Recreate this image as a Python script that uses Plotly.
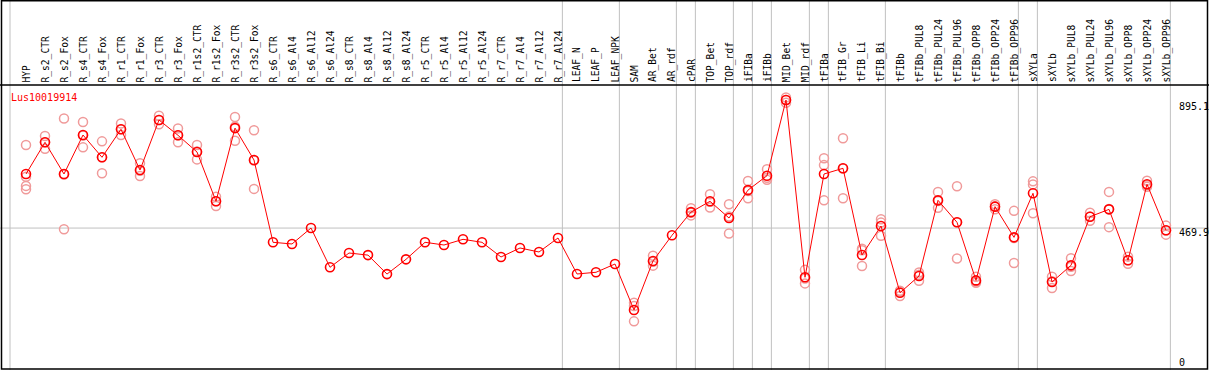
import plotly.graph_objects as go

categories = ["HYP", "R_s2_CTR", "R_s2_Fox", "R_s4_CTR", "R_s4_Fox", "R_r1_CTR", "R_r1_Fox",
              "R_r3_CTR", "R_r3_Fox", "R_r1s2_CTR", "R_r1s2_Fox", "R_r3s2_CTR", "R_r3s2_Fox",
              "R_s6_CTR", "R_s6_Al4", "R_s6_Al12", "R_s6_Al24", "R_s8_CTR", "R_s8_Al4", "R_s8_Al12",
              "R_s8_Al24", "R_r5_CTR", "R_r5_Al4", "R_r5_Al12", "R_r5_Al24", "R_r7_CTR", "R_r7_Al4",
              "R_r7_Al12", "R_r7_Al24", "LEAF_N", "LEAF_P", "LEAF_NPK", "SAM", "AR_Bet", "AR_rdf",
              "cPAR", "TOP_Bet", "TOP_rdf", "iFIBa", "iFIBb", "MID_Bet", "MID_rdf", "tFIBa",
              "tFIB_Gr", "tFIB_Li", "tFIB_Bi", "tFIBb", "tFIBb_PUL8", "tFIBb_PUL24", "tFIBb_PUL96",
              "tFIBb_OPP8", "tFIBb_OPP24", "tFIBb_OPP96", "sXYLa", "sXYLb", "sXYLb_PUL8",
              "sXYLb_PUL24", "sXYLb_PUL96", "sXYLb_OPP8", "sXYLb_OPP24", "sXYLb_OPP96"]

means = [649.5, 754.8, 649.5, 779, 705, 798, 662.8, 829, 778, 722.6, 558.8, 802, 696,
         422.6, 417, 470, 339.5, 387, 380, 317, 366, 422.6, 413.6, 432.5, 422.6, 373.8, 403.7,
         390.4, 436.9, 317.3, 323, 350.5, 197.7, 360.5, 445.8, 523, 558.8, 503.3, 596, 643.9,
         895.3, 306.3, 649.5, 668.4, 380.4, 476.7, 255, 310.6, 562, 489, 296, 541, 439,
         585.4, 290.7, 346, 507.6, 532, 362.8, 615.3, 462.5]

replicates = [
    [746, 640, 610, 599], [776, 733, 755], [834, 466, 648], [822, 738, 777], [758, 652, 705],
    [817, 779, 798], [685, 643, 660], [843, 815, 829], [801, 755, 778], [746, 698, 724],
    [574, 543, 559], [839, 760, 807], [795, 600, 694],
    [], [], [], [], [], [], [], [], [], [], [], [], [], [], [], [], [], [], [],
    [222, 211, 160], [378, 358, 345], [], [536, 521, 512], [582, 557, 538], [549, 508, 452],
    [626, 593, 569], [665, 637, 630], [904, 895, 886], [331, 302, 286], [702, 679, 562],
    [768, 668, 569], [401, 396, 344], [499, 488, 444], [262, 259, 244], [322, 315, 295],
    [590, 560, 537], [609, 489, 369], [308, 292, 288], [549, 542, 532], [527, 437, 354],
    [625, 615, 519], [308, 293, 271], [370, 341, 327], [521, 508, 494], [590, 533, 473],
    [375, 363, 351], [627, 612, 607], [478, 462, 448]]

group_ends = [28, 31, 34, 35, 37, 38, 39, 41, 42, 45, 52, 53, 60]
axis_labels = ["895.1", "469.9", "0"]
axis_values = [895.1, 469.9, 0]
gene = "Lus10019914"

W, H = 1209, 370
X0, DX = 26, 19          # pixel of first category, pixel step
Y_BOT, PXU = 369.5, 0.301  # pixel of value 0, pixels per unit


def px2x(px):
    return (px - X0) / DX


def py2paper(py):
    return 1 - py / H


idx = list(range(len(categories)))
rx, ry = [], []
for i, reps in enumerate(replicates):
    for r in reps:
        rx.append(i)
        ry.append(r)

fig = go.Figure()
fig.add_trace(go.Scatter(x=rx, y=ry, mode="markers",
                         marker=dict(symbol="circle-open", size=9, color="#f09a9a",
                                     line=dict(width=1.5, color="#f09a9a")),
                         showlegend=False, hoverinfo="skip"))
fig.add_trace(go.Scatter(x=idx, y=means, mode="lines+markers",
                         line=dict(color="#ff0000", width=1),
                         marker=dict(symbol="circle-open", size=9, color="#ff0000",
                                     line=dict(width=1.6, color="#ff0000")),
                         showlegend=False))

shapes = []
for g in [-0.842] + [e + 0.23 for e in group_ends]:
    shapes.append(dict(type="line", xref="x", yref="paper", x0=g, x1=g, y0=0, y1=1,
                       line=dict(color="#c0c0c0", width=1), layer="below"))
shapes.append(dict(type="line", xref="paper", yref="y", x0=0, x1=1, y0=469.9, y1=469.9,
                   line=dict(color="#c0c0c0", width=1), layer="below"))
shapes.append(dict(type="line", xref="paper", yref="paper", x0=0, x1=1,
                   y0=py2paper(85), y1=py2paper(85), line=dict(color="black", width=1.5)))
shapes.append(dict(type="rect", xref="paper", yref="paper",
                   x0=1.5 / W, x1=1207.5 / W, y0=py2paper(369), y1=py2paper(0.8),
                   line=dict(color="black", width=1.5)))

annotations = []
for i, c in enumerate(categories):
    annotations.append(dict(x=i, y=py2paper(83.5), xref="x", yref="paper", text=c,
                            textangle=-90, showarrow=False, xanchor="center", yanchor="bottom",
                            font=dict(family="DejaVu Sans Mono", size=9.6, color="black"),
                            borderpad=0))
annotations.append(dict(x=9 / W, y=py2paper(97), xref="paper", yref="paper", text=gene,
                        showarrow=False, xanchor="left", yanchor="middle",
                        font=dict(family="DejaVu Sans Mono", size=10, color="#ff0000")))
label_py = [107, 232, 362]
for t, py in zip(axis_labels, label_py):
    annotations.append(dict(x=1177 / W, y=py2paper(py), xref="paper", yref="paper", text=t,
                            showarrow=False, xanchor="left", yanchor="middle",
                            font=dict(family="DejaVu Sans Mono", size=10, color="black")))

fig.update_layout(
    width=W, height=H, margin=dict(l=0, r=0, t=0, b=0),
    paper_bgcolor="white", plot_bgcolor="white",
    xaxis=dict(range=[px2x(0), px2x(W)], visible=False, fixedrange=True),
    yaxis=dict(range=[(Y_BOT - H) / PXU, Y_BOT / PXU], visible=False, fixedrange=True),
    shapes=shapes, annotations=annotations, showlegend=False,
)

fig.write_html("out.html", config={"displayModeBar": False},
               post_script="document.body.style.margin='0';document.body.style.overflow='hidden';")
